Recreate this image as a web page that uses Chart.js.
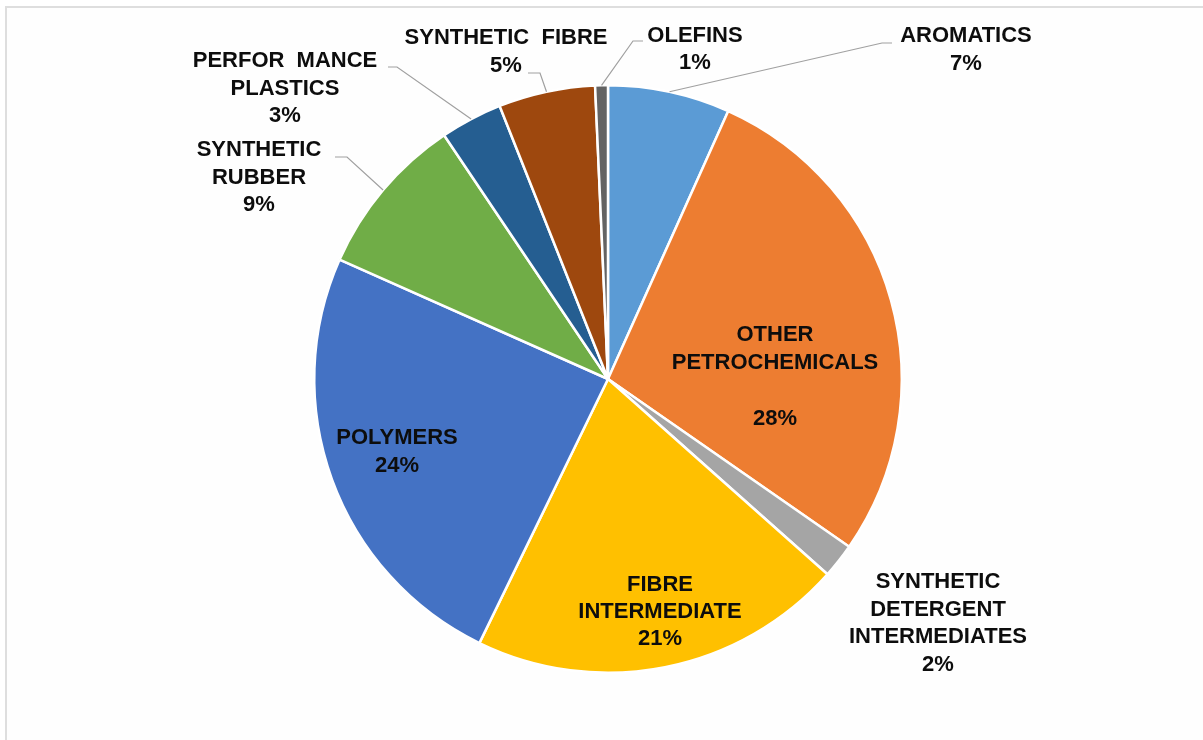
<!DOCTYPE html>
<html>
<head>
<meta charset="utf-8">
<script src="https://cdn.jsdelivr.net/npm/chart.js@4/dist/chart.umd.min.js"></script>
<style>
  html, body { margin: 0; padding: 0; background: #ffffff; overflow: hidden; }
  #frame { position: absolute; left: 5px; top: 6px; width: 1400px; height: 900px; border: 2px solid #dedede; background: #fefefe; box-sizing: border-box; }
  #wrap { position: absolute; left: 0; top: 0; width: 1203px; height: 740px; }
</style>
</head>
<body>
<div id="frame"></div>
<div id="wrap"><canvas id="c" width="1203" height="740"></canvas></div>
<script>
// ---- data ----
const categories = [
  "AROMATICS",
  "OTHER PETROCHEMICALS",
  "SYNTHETIC DETERGENT INTERMEDIATES",
  "FIBRE INTERMEDIATE",
  "POLYMERS",
  "SYNTHETIC RUBBER",
  "PERFORMANCE PLASTICS",
  "SYNTHETIC FIBRE",
  "OLEFINS"
];
const shares = [6.7, 27.9, 1.9, 20.6, 24.4, 8.9, 3.4, 5.3, 0.7];
// label text lines as shown on the chart (percent line appended from data)
const labelLines = [
  ["AROMATICS"],
  ["OTHER", "PETROCHEMICALS", ""],
  ["SYNTHETIC", "DETERGENT", "INTERMEDIATES"],
  ["FIBRE", "INTERMEDIATE"],
  ["POLYMERS"],
  ["SYNTHETIC", "RUBBER"],
  ["PERFOR  MANCE", "PLASTICS"],
  ["SYNTHETIC  FIBRE"],
  ["OLEFINS"]
];
const colors = ["#5B9BD5", "#ED7D31", "#A5A5A5", "#FFC000", "#4472C4", "#70AD47", "#255E91", "#9E480E", "#636363"];

// ---- label layout (annotation placement) ----
const labelLayout = [
  { x: 966, y: 36, lh: 28, leader: [[882, 43], [892, 43]] },
  { x: 775, y: 335, lh: 28 },
  { x: 938, y: 582, lh: 27.5 },
  { x: 660, y: 585, lh: 27 },
  { x: 397, y: 438, lh: 28 },
  { x: 259, y: 150, lh: 27.5, leader: [[347, 157], [335, 157]] },
  { x: 285, y: 61, lh: 27.5, leader: [[397, 67], [388, 67]] },
  { x: 506, y: 38, lh: 28, leader: [[540, 73], [528, 73]] },
  { x: 695, y: 36, lh: 27, leader: [[633, 41], [643, 41]] }
];

const labelPlugin = {
  id: 'pieLabels',
  afterDatasetsDraw(chart) {
    const ctx = chart.ctx;
    const meta = chart.getDatasetMeta(0);
    ctx.save();
    // leader lines
    ctx.strokeStyle = '#a0a0a0';
    ctx.lineWidth = 1.2;
    meta.data.forEach((arc, i) => {
      const L = labelLayout[i];
      if (!L.leader) return;
      const mid = (arc.startAngle + arc.endAngle) / 2;
      const r = arc.outerRadius;
      const sx = arc.x + Math.cos(mid) * r;
      const sy = arc.y + Math.sin(mid) * r;
      ctx.beginPath();
      ctx.moveTo(sx, sy);
      L.leader.forEach(p => ctx.lineTo(p[0], p[1]));
      ctx.stroke();
    });
    // texts
    ctx.font = 'bold 22px "Liberation Sans", Arial, sans-serif';
    ctx.fillStyle = '#0d0d0d';
    ctx.textAlign = 'center';
    ctx.textBaseline = 'middle';
    meta.data.forEach((arc, i) => {
      const L = labelLayout[i];
      const lines = labelLines[i].concat([Math.round(shares[i]) + '%']);
      lines.forEach((t, k) => {
        if (t) ctx.fillText(t, L.x, L.y + k * L.lh);
      });
    });
    ctx.restore();
  }
};

new Chart(document.getElementById('c'), {
  type: 'pie',
  data: {
    labels: categories,
    datasets: [{
      data: shares,
      backgroundColor: colors,
      borderColor: '#ffffff',
      borderWidth: 2.5
    }]
  },
  options: {
    responsive: false,
    animation: false,
    layout: { padding: { left: 313, right: 300, top: 84, bottom: 66 } },
    plugins: {
      legend: { display: false },
      tooltip: { enabled: false }
    }
  },
  plugins: [labelPlugin]
});
</script>
</body>
</html>
